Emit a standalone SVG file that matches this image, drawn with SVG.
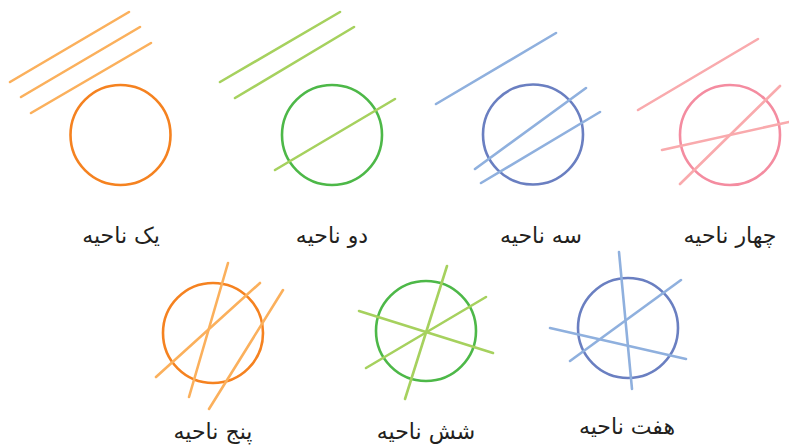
<svg xmlns="http://www.w3.org/2000/svg" width="789" height="447" viewBox="0 0 789 447">
<style>
.c{fill:none;stroke-width:2.6}
.l{stroke-width:2.6;stroke-linecap:round}
.t{font-family:"DejaVu Sans","Noto Sans",sans-serif;font-size:22px;fill:#231f20;text-anchor:middle;direction:rtl}
.oc{stroke:#f58220}.ol{stroke:#fbb05c}
.gc{stroke:#4db848}.gl{stroke:#a6d15e}
.bc{stroke:#6a7fc1}.bl{stroke:#8fb0de}
.pc{stroke:#f48ca0}.pl{stroke:#f9aaad}
</style>
<rect width="789" height="447" fill="#fff"/>
<g id="one">
<circle class="c oc" cx="120.5" cy="135" r="50"/>
<g class="l ol"><line x1="10" y1="82" x2="129" y2="12"/><line x1="21" y1="97" x2="140" y2="27"/><line x1="31" y1="113" x2="151" y2="43"/></g>
<text class="t" x="121" y="243">یک ناحیه</text>
</g>
<g id="two">
<circle class="c gc" cx="332" cy="135" r="50"/>
<g class="l gl"><line x1="220" y1="82" x2="340" y2="12"/><line x1="235" y1="98" x2="354" y2="27"/><line x1="275" y1="170" x2="395" y2="99"/></g>
<text class="t" x="332" y="243">دو ناحیه</text>
</g>
<g id="three">
<circle class="c bc" cx="533" cy="134.5" r="50"/>
<g class="l bl"><line x1="436" y1="104" x2="556" y2="33"/><line x1="475" y1="169" x2="586" y2="88"/><line x1="481" y1="183" x2="600" y2="112"/></g>
<text class="t" x="541" y="243">سه ناحیه</text>
</g>
<g id="four">
<circle class="c pc" cx="730" cy="135" r="50"/>
<g class="l pl"><line x1="638" y1="110" x2="758" y2="39"/><line x1="680" y1="184" x2="780" y2="86"/><line x1="662" y1="150" x2="789" y2="122"/></g>
<text class="t" x="730" y="243">چهار ناحیه</text>
</g>
<g id="five">
<circle class="c oc" cx="213" cy="333" r="50"/>
<g class="l ol"><line x1="228" y1="263" x2="189" y2="397"/><line x1="156" y1="377" x2="260" y2="283"/><line x1="209" y1="409" x2="283" y2="290"/></g>
<text class="t" x="213" y="439">پنج ناحیه</text>
</g>
<g id="six">
<circle class="c gc" cx="426" cy="331" r="50"/>
<g class="l gl"><line x1="447" y1="266" x2="405" y2="399"/><line x1="366" y1="368" x2="486" y2="297"/><line x1="359" y1="311" x2="493" y2="353"/></g>
<text class="t" x="426" y="439">شش ناحیه</text>
</g>
<g id="seven">
<circle class="c bc" cx="628" cy="328" r="50"/>
<g class="l bl"><line x1="619" y1="252" x2="632" y2="389"/><line x1="570" y1="361" x2="681" y2="280"/><line x1="550" y1="328" x2="686" y2="359"/></g>
<text class="t" x="627" y="434">هفت ناحیه</text>
</g>
</svg>
